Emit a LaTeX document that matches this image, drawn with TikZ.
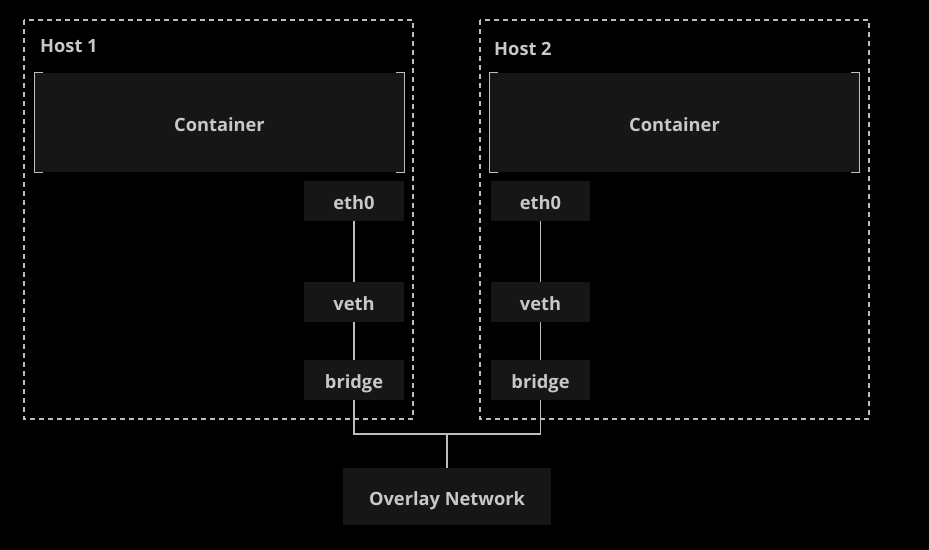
\documentclass[tikz,border=0pt]{standalone}
\usepackage{fontspec}
\setmainfont{Open Sans}
\usetikzlibrary{calc}
\definecolor{boxfill}{HTML}{161616}
\definecolor{txt}{HTML}{C8C8C8}
\definecolor{edge}{HTML}{BDBDBD}

\begin{document}
\begin{tikzpicture}[x=0.02cm,y=-0.02cm,font=\bfseries\fontsize{10.4}{12}\selectfont,
    hostbox/.style={draw=edge,line width=0.6pt,dash pattern=on 0.1cm off 0.08cm},
    iface/.style={fill=boxfill,text=txt,minimum width=2cm,minimum height=0.8cm,inner sep=0pt,text height=10pt,text depth=0pt},
    link/.style={draw=edge,line width=0.6pt}]
          \fill[black] (0,0) rectangle (929,550);
          % hosts
          \draw[hostbox] (24,20) rectangle (413,419);
          \node[text=txt,anchor=west] (H1) at (34,46) {Host 1};
          \draw[hostbox] (480,20) rectangle (869,419);
          \node[text=txt,anchor=west] (H2) at (488,49) {Host 2};
          % containers
          \node[iface,minimum width=7.38cm,minimum height=1.98cm] (C1) at (219.5,122.5) {Container};
          \node[iface,minimum width=7.38cm,minimum height=1.98cm] (C2) at (674.5,122.5) {Container};
          \foreach \c in {C1,C2} {
            \draw[link] ($(\c.north west)+(8,0)$) -- (\c.north west) -- (\c.south west) -- ++(8,0);
            \draw[link] ($(\c.north east)+(-8,0)$) -- (\c.north east) -- (\c.south east) -- ++(-8,0);
          }
          % interfaces
          \node[iface] (Eth1) at (354,201) {eth0};
          \node[iface] (Veth1) at (354,302) {veth};
          \node[iface] (Br1) at (354,380) {bridge};
          \node[iface] (Eth2) at (540.5,201) {eth0};
          \node[iface] (Veth2) at (540.5,302) {veth};
          \node[iface] (Br2) at (540.5,380) {bridge};
          \node[iface,minimum width=4.16cm,minimum height=1.14cm] (Ovl) at (447,496.5) {Overlay Network};
          \draw[link] (Eth1) -- (Veth1) -- (Br1);
          \draw[link] (Eth2) -- (Veth2) -- (Br2);
          \coordinate (J) at (447,434);
          \draw[link] (Br1.south) |- (J) -| (Br2.south);
          \draw[link] (J) -- (Ovl.north);
        \end{tikzpicture}
\end{document}
